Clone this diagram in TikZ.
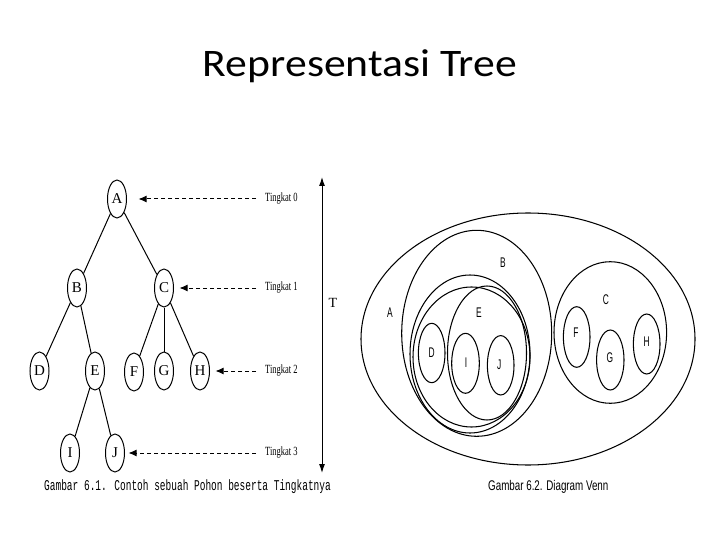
\documentclass[tikz,border=0pt]{standalone}
\usepackage{fontspec}
\setmainfont{Liberation Serif}
\newfontfamily\titlefont{Carlito}
\newfontfamily\capmono{Liberation Mono}
\newfontfamily\vennfont{Liberation Sans}
\usetikzlibrary{shapes.geometric,arrows.meta}
\newcommand\narrowtext[2]{\scalebox{#1}[1]{#2}}
\begin{document}
\begin{tikzpicture}[x=1pt,y=-1pt,
  treenode/.style={draw, ellipse, line width=1pt, minimum width=19pt, minimum height=38pt, inner sep=0pt, font=\fontsize{15}{15}\selectfont},
  edge/.style={line width=1pt},
  levelarrow/.style={line width=1pt, dash pattern=on 4pt off 3pt, -{Latex[length=8pt,width=7pt]}},
  levellabel/.style={anchor=west, inner sep=0pt, font=\fontsize{12.5}{12.5}\selectfont},
  venn/.style={line width=1.05pt},
  vlabel/.style={inner sep=0pt, font=\vennfont\fontsize{14}{14}\selectfont}]
\useasboundingbox (0,0) rectangle (720,540);

% title
\node[font=\titlefont\fontsize{39}{39}\selectfont, anchor=base, inner sep=0pt] (title) at (360,77) {\narrowtext{1.12}{Representasi Tree}};

% tree
\node[treenode] (A) at (117,199) {A};
\node[treenode] (B) at (77,288) {B};
\node[treenode] (C) at (164,288) {C};
\node[treenode] (D) at (39.5,371) {D};
\node[treenode] (E) at (95,371) {E};
\node[treenode] (F) at (134,372) {F};
\node[treenode] (G) at (164,371) {G};
\node[treenode] (H) at (200,371) {H};
\node[treenode] (I) at (70,453) {I};
\node[treenode] (J) at (115,453) {J};
\draw[edge] (A) -- (B);
\draw[edge] (A) -- (C);
\draw[edge] (B) -- (D);
\draw[edge] (B) -- (E);
\draw[edge] (C) -- (F);
\draw[edge] (C) -- (G);
\draw[edge] (C) -- (H);
\draw[edge] (E) -- (I);
\draw[edge] (E) -- (J);

% level labels and arrows
\node[levellabel] (t0) at (265,199) {\narrowtext{0.68}{Tingkat 0}};
\node[levellabel] (t1) at (265,288) {\narrowtext{0.68}{Tingkat 1}};
\node[levellabel] (t2) at (265,371) {\narrowtext{0.68}{Tingkat 2}};
\node[levellabel] (t3) at (265,453) {\narrowtext{0.68}{Tingkat 3}};
\draw[levelarrow, shorten <=9pt, shorten >=11.5pt] (t0.west) -- (A.east);
\draw[levelarrow, shorten <=9pt, shorten >=5.5pt] (t1.west) -- (C.east);
\draw[levelarrow, shorten <=9pt, shorten >=5.5pt] (t2.west) -- (H.east);
\draw[levelarrow, shorten <=9pt, shorten >=3.5pt] (t3.west) -- (J.east);

% height arrow
\coordinate (ttop) at (322,177);
\coordinate (tbot) at (322,473);
\draw[line width=1pt, {Latex[length=9pt,width=6pt]}-{Latex[length=9pt,width=6pt]}] (ttop) -- (tbot);
\node[font=\fontsize{14}{14}\selectfont, inner sep=0pt] (T) at (333,303) {T};

% caption 1
\node[anchor=base west, inner sep=0pt] (cap1) at (44,490) {\capmono\fontsize{13}{13}\selectfont\scalebox{0.73}[1.15]{Gambar 6.1. Contoh sebuah Pohon beserta Tingkatnya}};

% Venn diagram
\draw[venn] (528,339) ellipse [x radius=167, y radius=126];
\draw[venn] (476.7,333.3) ellipse [x radius=75, y radius=103];
\draw[venn] (470,354) ellipse [x radius=60, y radius=79];
\draw[venn] (471.5,357) ellipse [x radius=58.5, y radius=70];
\draw[venn] (487,353) ellipse [x radius=39.5, y radius=67];
\draw[venn] (431.7,353) ellipse [x radius=13.3, y radius=29.7];
\draw[venn] (465.5,363.3) ellipse [x radius=13.8, y radius=30];
\draw[venn] (500.7,365.3) ellipse [x radius=13.3, y radius=29.7];
\draw[venn] (610.3,332.5) ellipse [x radius=56.3, y radius=70.8];
\draw[venn] (576.7,337) ellipse [x radius=13.3, y radius=30.3];
\draw[venn] (610.3,360) ellipse [x radius=13.7, y radius=30];
\draw[venn] (646.7,344) ellipse [x radius=13.3, y radius=30];

\node[vlabel] (vA) at (390,313) {\narrowtext{0.6}{A}};
\node[vlabel] (vB) at (503,263) {\narrowtext{0.6}{B}};
\node[vlabel] (vE) at (479,313) {\narrowtext{0.6}{E}};
\node[vlabel] (vD) at (431.7,353) {\narrowtext{0.6}{D}};
\node[vlabel] (vI) at (466,363) {\narrowtext{0.6}{I}};
\node[vlabel] (vJ) at (499.3,365) {\narrowtext{0.6}{J}};
\node[vlabel] (vC) at (606,300) {\narrowtext{0.6}{C}};
\node[vlabel] (vF) at (576,333) {\narrowtext{0.6}{F}};
\node[vlabel] (vG) at (610,358) {\narrowtext{0.6}{G}};
\node[vlabel] (vH) at (646.7,342) {\narrowtext{0.6}{H}};

% caption 2
\node[anchor=base west, inner sep=0pt] (cap2) at (488,490) {\vennfont\fontsize{14}{14}\selectfont\narrowtext{0.7}{Gambar 6.2. Diagram Venn}};
\end{tikzpicture}
\end{document}
